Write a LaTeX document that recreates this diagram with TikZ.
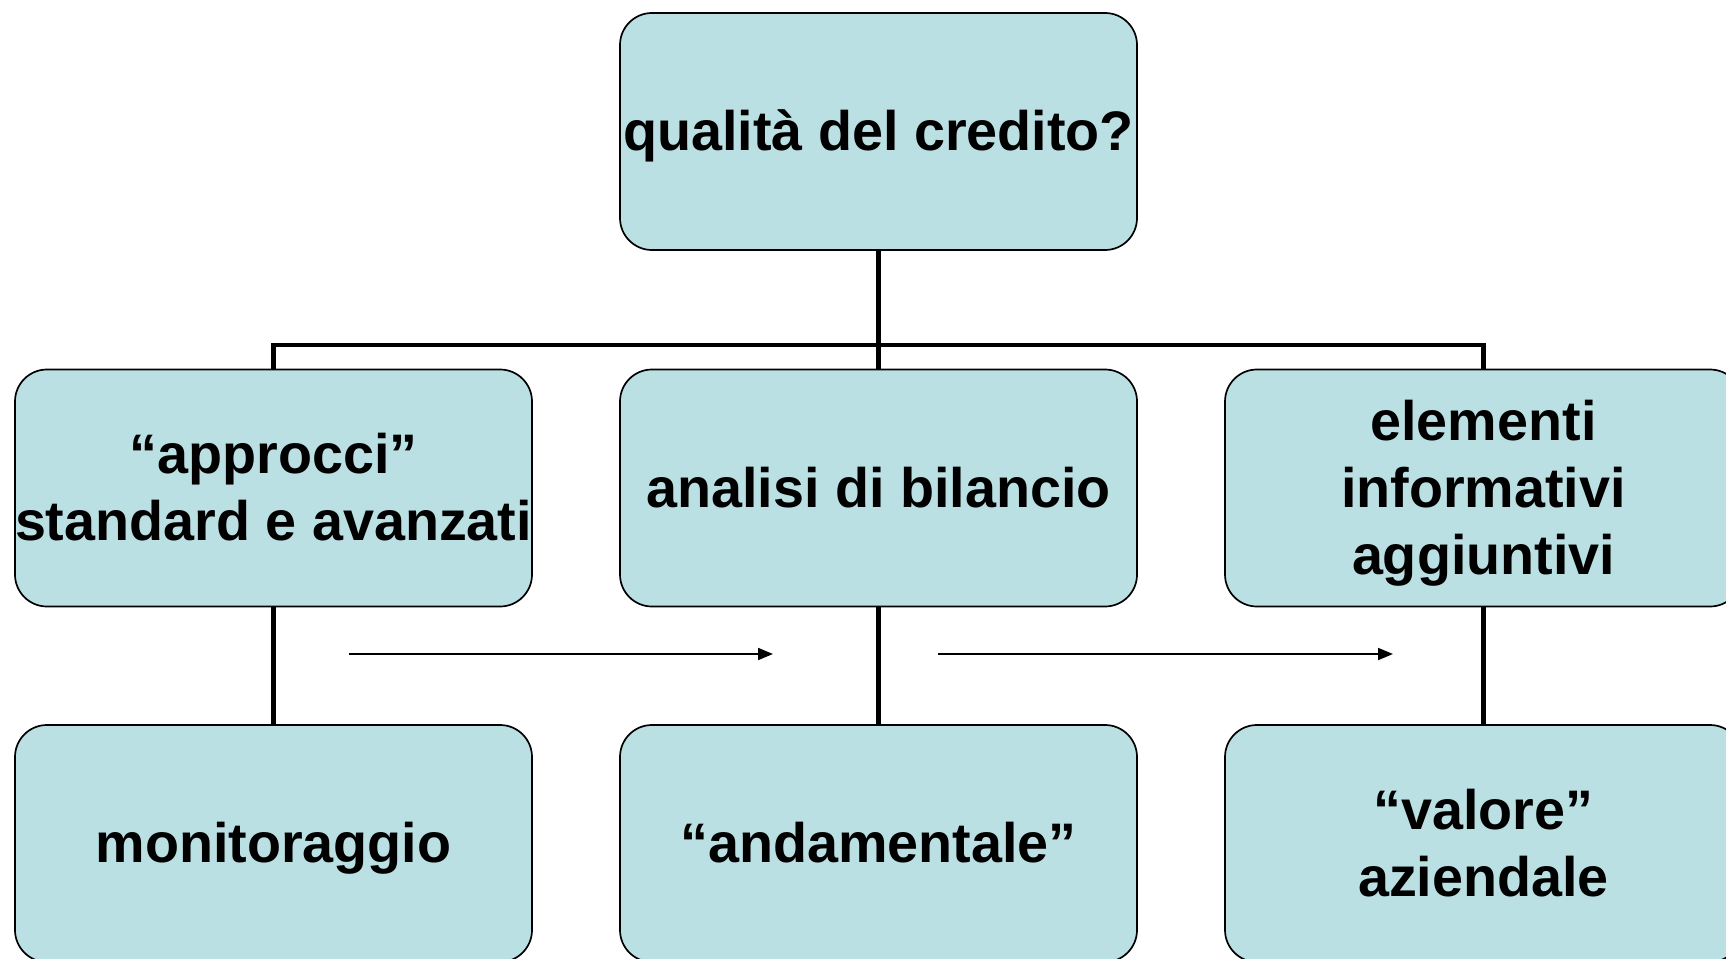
\documentclass[tikz,border=0pt]{standalone}
\usepackage{fontspec}
\setmainfont{Liberation Sans}
\usetikzlibrary{arrows.meta}
\definecolor{boxfill}{RGB}{187,224,227}
\newcommand\lnstrut{\rule[-0.212em]{0pt}{1.117em}}
\begin{document}
\begin{tikzpicture}[x=1pt,y=-1pt,
  box/.style={draw=black, line width=1.7pt, fill=boxfill, rounded corners=32pt,
    minimum width=517pt, minimum height=237pt, inner sep=0pt, align=center,
    font=\fontsize{55.7}{67}\selectfont\bfseries},
  conn/.style={line width=4.5pt, line join=miter},
  flow/.style={line width=1.8pt, -{Triangle[length=15pt,width=12pt]}}]
\useasboundingbox (0,0) rectangle (1726,958);
\fill[white] (0,0) rectangle (1726,958);

\node[box] (top) at (878.5,131.5) {\lnstrut qualità del credito?};
\node[box] (l2) at (273.5,488) {\lnstrut“approcci”\\\lnstrut standard e avanzati};
\node[box] (m2) at (878.5,488) {\lnstrut analisi di bilancio};
\node[box] (r2) at (1483.5,488) {\lnstrut elementi\\\lnstrut informativi\\\lnstrut aggiuntivi};
\node[box] (l3) at (273.5,843.5) {\lnstrut monitoraggio};
\node[box] (m3) at (878.5,843.5) {\lnstrut“andamentale”};
\node[box] (r3) at (1483.5,843.5) {\lnstrut“valore”\\\lnstrut aziendale};

\coordinate (bus) at (878.5,345);
\draw[conn] (top.south) -- (m2.north);
\draw[conn] (l2.north) |- (bus) -| (r2.north);
\draw[conn] (l2.south) -- (l3.north);
\draw[conn] (m2.south) -- (m3.north);
\draw[conn] (r2.south) -- (r3.north);

\coordinate (a1s) at (349,654);
\coordinate (a1e) at (773,654);
\coordinate (a2s) at (938,654);
\coordinate (a2e) at (1393,654);
\draw[flow] (a1s) -- (a1e);
\draw[flow] (a2s) -- (a2e);
\end{tikzpicture}
\end{document}
